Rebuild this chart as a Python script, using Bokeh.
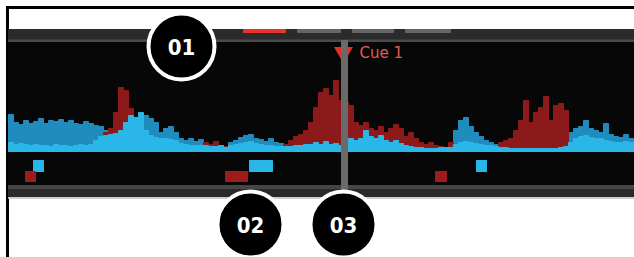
from bokeh.plotting import figure
from bokeh.models import Range1d
from bokeh.core.properties import value
from bokeh.embed import file_html
from bokeh.resources import INLINE

# ---------------- data ----------------
BIN_START = 8      # first waveform bin (screen-like x units)
BIN_W = 5
BASELINE = 150

# waveform amplitudes per bin (upper dark-blue layer, red layer, light-blue layer)
dark_blue = [36, 28, 26, 30, 27, 29, 32, 27, 30, 29, 31, 28, 30, 27, 26, 29, 27, 25, 24, 20,
             18, 0, 0, 0, 0, 25, 30, 35, 32, 28, 18, 22, 24, 18, 12, 10, 12, 9, 11, 0,
             0, 0, 0, 0, 8, 10, 13, 15, 16, 12, 11, 9, 12, 8, 7, 0, 0, 0, 0, 0,
             0, 0, 0, 0, 0, 0, 0, 0, 0, 0, 0, 0, 0, 0, 0, 0, 0, 0, 0, 0,
             0, 0, 0, 0, 0, 0, 0, 0, 0, 20, 30, 33, 24, 18, 14, 10, 8, 6, 0, 0,
             0, 0, 0, 0, 0, 0, 0, 0, 0, 0, 0, 0, 18, 22, 24, 30, 22, 20, 18, 27,
             16, 14, 13, 16, 12]
red = [0, 0, 0, 0, 0, 0, 0, 0, 0, 0, 0, 0, 0, 0, 0, 0, 0, 0, 0, 18,
       22, 38, 63, 60, 42, 0, 0, 0, 0, 0, 0, 0, 0, 0, 0, 0, 0, 0, 0, 8,
       6, 9, 5, 4, 0, 0, 0, 0, 0, 0, 0, 0, 0, 0, 0, 6, 10, 14, 16, 20,
       28, 43, 58, 62, 55, 70, 50, 48, 45, 28, 25, 28, 22, 20, 24, 18, 22, 26, 22, 14,
       18, 12, 8, 6, 8, 5, 4, 3, 8, 0, 0, 0, 0, 0, 0, 0, 0, 0, 8, 10,
       12, 20, 30, 50, 28, 38, 43, 54, 30, 45, 47, 40, 0, 0, 0, 0, 0, 0, 0, 0,
       0, 0, 0, 0, 0]
light = [8, 6, 7, 6, 5, 6, 5, 5, 4, 6, 5, 5, 4, 5, 6, 5, 6, 10, 14, 15,
         16, 17, 20, 28, 35, 33, 38, 20, 15, 13, 12, 12, 11, 10, 7, 6, 5, 5, 5, 5,
         4, 4, 5, 3, 5, 6, 7, 8, 9, 7, 6, 5, 5, 4, 4, 4, 4, 5, 5, 6,
         6, 8, 6, 9, 6, 7, 5, 7, 12, 10, 12, 20, 14, 12, 15, 10, 8, 10, 7, 5,
         4, 3, 3, 2, 2, 2, 3, 3, 3, 6, 8, 9, 8, 7, 6, 5, 5, 4, 3, 3,
         2, 2, 2, 2, 2, 2, 2, 2, 2, 2, 3, 4, 8, 12, 14, 15, 13, 12, 12, 10,
         9, 8, 8, 9, 8]

# cue / loop marks under the waveform
blue_mark_left = [33, 249, 476]
blue_mark_right = [43, 272, 486]
red_mark_left = [25, 225, 435]
red_mark_right = [35, 247, 446]

# overview strip segments
overview_red = [(243, 285)]
overview_grey = [(297, 340), (352, 393), (405, 450)]

cue_pos = 344
cue_label = "Cue 1"

callout_labels = ["01", "02", "03"]
callout_x = [181, 250, 343]
callout_y = [46, 224, 224]

# ---------------- colours ----------------
LIGHT_BLUE = "#2bb6e8"
DARK_BLUE = "#1f8cbd"
RED = "#8c1a1a"
MARK_RED = "#9e1c1c"

# ---------------- figure ----------------
W, H = 634, 257
p = figure(width=W, height=H, output_backend="svg", toolbar_location=None,
           x_range=Range1d(0, W), y_range=Range1d(H, 0),
           min_border=0, min_border_left=0, min_border_right=0,
           min_border_top=0, min_border_bottom=0)
p.axis.visible = False
p.grid.visible = False
p.outline_line_color = None
p.background_fill_color = "white"
p.border_fill_color = "white"

# frame lines (top and left)
p.quad(left=[6], right=[634], top=[6], bottom=[8], color="black")
p.quad(left=[6], right=[8], top=[6], bottom=[257], color="black")

# top strip
p.quad(left=[8], right=[634], top=[29], bottom=[42], color="#2b2b2b")
p.quad(left=[8], right=[634], top=[39.5], bottom=[42], color="#4a4a4a")
p.quad(left=[a for a, b in overview_grey], right=[b for a, b in overview_grey],
       top=29, bottom=32, color="#666666")
p.quad(left=[a for a, b in overview_red], right=[b for a, b in overview_red],
       top=29, bottom=32, color="#e8342f")

# black panel
p.quad(left=[8], right=[634], top=[42], bottom=[185], color="#070707")

# bottom strip
p.quad(left=[8], right=[634], top=[185], bottom=[197], color="#2a2a2a")
p.quad(left=[8], right=[634], top=[185], bottom=[188], color="#454545")
p.quad(left=[8], right=[634], top=[197], bottom=[198], color="#cfcfcf")

# waveform
n = len(light)
xs = [BIN_START + BIN_W * i + BIN_W / 2 for i in range(n)]
p.vbar(x=xs, width=BIN_W, bottom=BASELINE + 1, top=[BASELINE - v for v in dark_blue],
       color=DARK_BLUE)
p.vbar(x=xs, width=BIN_W, bottom=BASELINE + 1, top=[BASELINE - v for v in red],
       color=RED)
p.vbar(x=xs, width=BIN_W, bottom=BASELINE + 1, top=[BASELINE - v for v in light],
       color=LIGHT_BLUE)
p.quad(left=[8], right=[634], top=[BASELINE - 1], bottom=[BASELINE + 1], color=LIGHT_BLUE)

# marks
p.quad(left=blue_mark_left, right=blue_mark_right, top=160, bottom=171, color=LIGHT_BLUE)
p.quad(left=red_mark_left, right=red_mark_right, top=171, bottom=181, color=MARK_RED)

# cue marker
p.scatter(x=[cue_pos - 1], y=[52], marker="inverted_triangle", size=19,
          color="#e3302b", line_color=None)
p.quad(left=[cue_pos - 3], right=[cue_pos + 3], top=[40], bottom=[192], color="#6a6a6a")
p.text(x=[cue_pos + 15], y=[52], text=[cue_label], text_color="#e65a52",
       text_font=value("DejaVu Sans"), text_font_size="15px",
       text_baseline="middle", text_align="left")

# callouts
p.circle(x=callout_x, y=callout_y, radius=33, fill_color="black",
         line_color="white", line_width=4)
p.text(x=callout_x, y=callout_y, text=callout_labels, text_color="white",
       text_font=value("DejaVu Sans Condensed"), text_font_style="bold",
       text_font_size="22px", text_baseline="middle", text_align="center")

open("out.html", "w").write(file_html(p, INLINE))
